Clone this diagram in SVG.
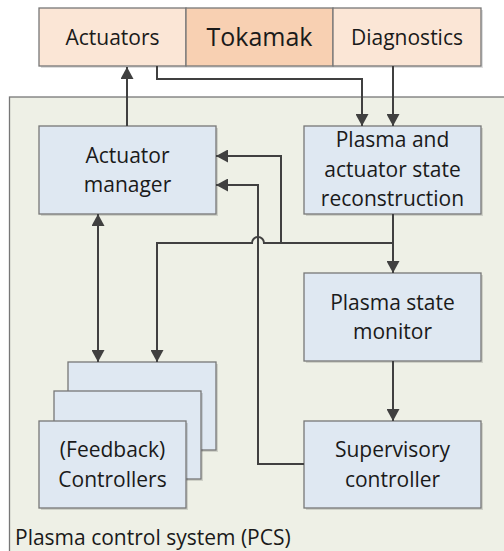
<svg xmlns="http://www.w3.org/2000/svg" width="504" height="551" viewBox="0 0 504 551">
<defs>
<marker id="ah" viewBox="0 0 12 13" refX="12" refY="6.5" markerWidth="12" markerHeight="13" markerUnits="userSpaceOnUse" orient="auto-start-reverse">
<path d="M0,0 L12,6.5 L0,13 z" fill="#404040"/>
</marker>
</defs>
<style>
text{font-family:"Open Sans","Liberation Sans",sans-serif;font-size:21px;fill:#1a1a1a;text-anchor:middle}
.box{stroke:#777;stroke-width:1.3}
.blue{fill:#DFE8F2}
.peach{fill:#FBE6D6}
.tok{fill:#F8D0B2}
.sh{fill:#000;opacity:0.13}
.c{fill:none;stroke:#404040;stroke-width:2}
.ae{marker-end:url(#ah)}
</style>
<rect width="504" height="551" fill="#fff"/>
<g id="pcs">
<rect x="9.5" y="97" width="500" height="470" fill="#EEF0E6" stroke="#777" stroke-width="1.3"/>
<text x="15" y="545" style="text-anchor:start">Plasma control system (PCS)</text>
</g>
<g id="tokamak-row">
<rect class="sh" x="41" y="10" width="442" height="58"/>
<g id="actuators">
<rect class="box peach" x="39" y="8" width="147" height="58"/>
<text x="112.5" y="45">Actuators</text>
</g>
<g id="tokamak">
<rect class="box tok" x="186" y="8" width="147" height="58"/>
<text x="259.5" y="46" style="font-size:25px">Tokamak</text>
</g>
<g id="diagnostics">
<rect class="box peach" x="333" y="8" width="148" height="58"/>
<text x="407" y="45">Diagnostics</text>
</g>
</g>
<g id="actuator-manager">
<rect class="sh" x="41" y="128" width="177" height="88"/>
<rect class="box blue" x="39" y="126" width="177" height="88"/>
<text x="127.5" y="163">Actuator</text>
<text x="127.5" y="192">manager</text>
</g>
<g id="reconstruction">
<rect class="sh" x="306" y="128" width="177" height="88"/>
<rect class="box blue" x="304" y="126" width="177" height="88"/>
<text x="392.5" y="147">Plasma and</text>
<text x="392.5" y="177">actuator state</text>
<text x="392.5" y="206">reconstruction</text>
</g>
<g id="monitor">
<rect class="sh" x="306" y="275" width="177" height="88"/>
<rect class="box blue" x="304" y="273" width="177" height="88"/>
<text x="392.5" y="310">Plasma state</text>
<text x="392.5" y="339">monitor</text>
</g>
<g id="supervisory">
<rect class="sh" x="306" y="423" width="177" height="87"/>
<rect class="box blue" x="304" y="421" width="177" height="87"/>
<text x="392.5" y="457">Supervisory</text>
<text x="392.5" y="487">controller</text>
</g>
<g id="controllers">
<rect class="sh" x="70" y="364" width="148" height="88"/>
<rect class="box blue" x="68" y="362" width="148" height="88"/>
<rect class="sh" x="56" y="393" width="147" height="88"/>
<rect class="box blue" x="54" y="391" width="147" height="88"/>
<rect class="sh" x="41" y="423" width="147" height="87"/>
<rect class="box blue" x="39" y="421" width="147" height="87"/>
<text x="112.5" y="457">(Feedback)</text>
<text x="112.5" y="487">Controllers</text>
</g>
<g id="connectors">
<path class="c ae" d="M127,126 V67"/>
<path class="c ae" d="M157,66 V79 H362 V126"/>
<path class="c ae" d="M393,66 V126"/>
<path class="c ae" d="M393,214 V273"/>
<path class="c ae" d="M393,243 H264 A6,6 0 0 0 252,243 H157 V362"/>
<path class="c ae" d="M281,243 V156 H216"/>
<path class="c ae" d="M304,464 H258 V185 H216"/>
<path class="c ae" d="M98,214 V362" style="marker-start:url(#ah)"/>
<path class="c ae" d="M393,361 V421"/>
</g>
</svg>
